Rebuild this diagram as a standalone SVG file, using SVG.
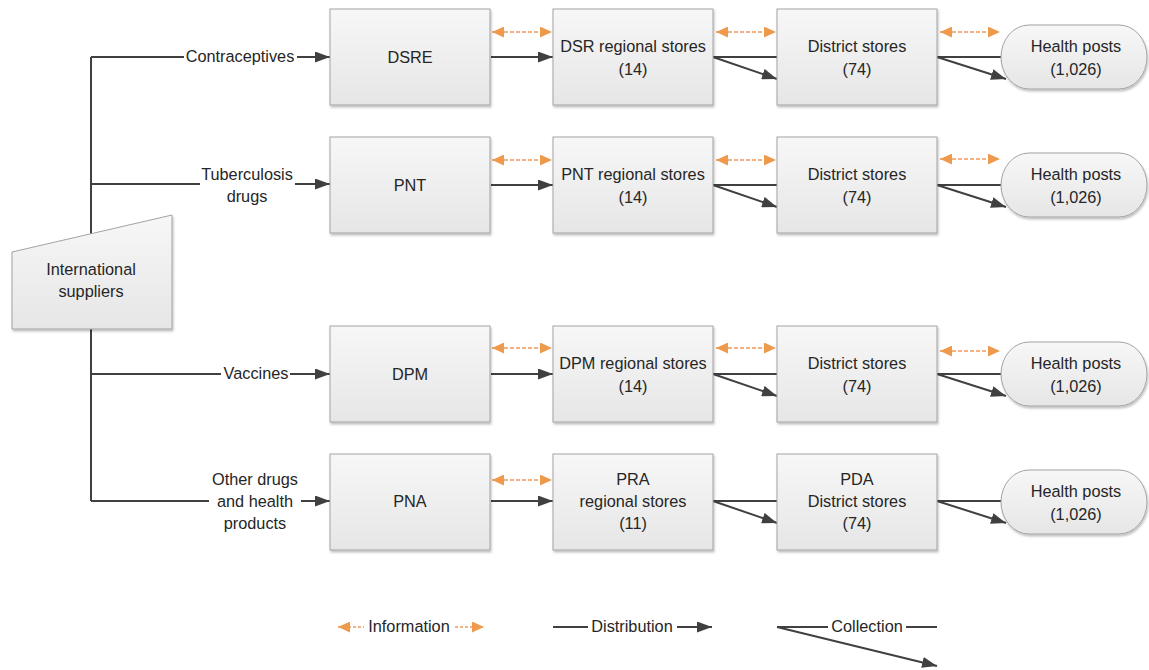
<svg xmlns="http://www.w3.org/2000/svg" width="1149" height="670" viewBox="0 0 1149 670">
<style>
text{font-family:"Liberation Sans",Arial,sans-serif;font-size:16.3px;fill:#262626;text-anchor:middle}
.box{fill:url(#g);stroke:#a3a3a3;stroke-width:1;filter:url(#sh)}
.ln{stroke:#404040;stroke-width:2;fill:none}
.ar{stroke:#404040;stroke-width:2;fill:none;marker-end:url(#ab)}
.info{stroke:#F4B183;stroke-width:2;stroke-dasharray:4 2;fill:none;marker-start:url(#ao);marker-end:url(#ao)}
</style>
<defs>
<linearGradient id="g" x1="0" y1="0" x2="0" y2="1">
<stop offset="0" stop-color="#f7f7f7"/>
<stop offset="1" stop-color="#e6e6e6"/>
</linearGradient>
<filter id="sh" x="-10%" y="-10%" width="130%" height="130%">
<feDropShadow dx="1" dy="2" stdDeviation="1.2" flood-color="#000" flood-opacity="0.25"/>
</filter>
<marker id="ab" viewBox="0 0 15 11" markerWidth="15" markerHeight="11" refX="15" refY="5.5" orient="auto" markerUnits="userSpaceOnUse">
<path d="M0,0 L15,5.5 L0,11 z" fill="#404040"/>
</marker>
<marker id="ao" viewBox="0 0 12 11" markerWidth="12" markerHeight="11" refX="12" refY="5.5" orient="auto-start-reverse" markerUnits="userSpaceOnUse">
<path d="M0,0 L12,5.5 L0,11 z" fill="#EE9A4D"/>
</marker>
</defs>
<rect width="1149" height="670" fill="#fff"/>

<g id="connectors">
<path class="ln" d="M91,57 V501"/>
<path class="ln" d="M91,57 H184"/><path class="ar" d="M297,57 H330"/>
<path class="ln" d="M91,184 H200"/><path class="ar" d="M295,184 H330"/>
<path class="ln" d="M91,374 H221"/><path class="ar" d="M290,374 H330"/>
<path class="ln" d="M91,501 H209"/><path class="ar" d="M301,501 H330"/>
<path class="ar" d="M491,57 H553"/>
<path class="ar" d="M491,185 H553"/>
<path class="ar" d="M491,374 H553"/>
<path class="ar" d="M491,501 H553"/>
<path class="ln" d="M713,57 H777"/><path class="ar" d="M713,57 L777,79"/>
<path class="ln" d="M713,185 H777"/><path class="ar" d="M713,185 L777,207"/>
<path class="ln" d="M713,374 H777"/><path class="ar" d="M713,374 L777,396"/>
<path class="ln" d="M713,501 H777"/><path class="ar" d="M713,501 L777,523"/>
<path class="ln" d="M937,57 H1003"/><path class="ar" d="M937,57 L1006,79"/>
<path class="ln" d="M937,185 H1003"/><path class="ar" d="M937,185 L1006,207"/>
<path class="ln" d="M937,374 H1003"/><path class="ar" d="M937,374 L1006,396"/>
<path class="ln" d="M937,501 H1003"/><path class="ar" d="M937,501 L1006,523"/>
<path class="info" d="M492,32 H552"/>
<path class="info" d="M716,32 H776"/>
<path class="info" d="M940,32 H1000"/>
<path class="info" d="M492,160 H552"/>
<path class="info" d="M716,160 H776"/>
<path class="info" d="M940,159 H1000"/>
<path class="info" d="M492,348 H552"/>
<path class="info" d="M716,348 H776"/>
<path class="info" d="M940,351 H1000"/>
<path class="info" d="M492,480 H552"/>
</g>

<g id="labels">
<text x="240" y="62">Contraceptives</text>
<text x="247" y="180">Tuberculosis</text>
<text x="247" y="202">drugs</text>
<text x="256" y="379">Vaccines</text>
<text x="255" y="485">Other drugs</text>
<text x="255" y="507">and health</text>
<text x="255" y="529">products</text>
</g>

<g id="international-suppliers">
<path d="M12,252 L172,215 L172,329 L12,329 z" fill="url(#g)" stroke="#a3a3a3" filter="url(#sh)"/>
<text x="91" y="275">International</text>
<text x="91" y="297">suppliers</text>
</g>

<g id="dsre"><rect class="box" x="330" y="9" width="160" height="96"/><text x="410" y="63">DSRE</text></g>
<g id="dsr-regional"><rect class="box" x="553" y="9" width="160" height="96"/><text x="633" y="52">DSR regional stores</text><text x="633" y="75">(14)</text></g>
<g id="district-1"><rect class="box" x="777" y="9" width="160" height="96"/><text x="857" y="52">District stores</text><text x="857" y="75">(74)</text></g>
<g id="hp-1"><rect class="box" x="1001" y="25" width="146" height="64" rx="28" ry="32"/><text x="1076" y="52">Health posts</text><text x="1076" y="75">(1,026)</text></g>

<g id="pnt"><rect class="box" x="330" y="137" width="160" height="96"/><text x="410" y="191">PNT</text></g>
<g id="pnt-regional"><rect class="box" x="553" y="137" width="160" height="96"/><text x="633" y="180">PNT regional stores</text><text x="633" y="203">(14)</text></g>
<g id="district-2"><rect class="box" x="777" y="137" width="160" height="96"/><text x="857" y="180">District stores</text><text x="857" y="203">(74)</text></g>
<g id="hp-2"><rect class="box" x="1001" y="153" width="146" height="64" rx="28" ry="32"/><text x="1076" y="180">Health posts</text><text x="1076" y="203">(1,026)</text></g>

<g id="dpm"><rect class="box" x="330" y="326" width="160" height="96"/><text x="410" y="380">DPM</text></g>
<g id="dpm-regional"><rect class="box" x="553" y="326" width="160" height="96"/><text x="633" y="369">DPM regional stores</text><text x="633" y="392">(14)</text></g>
<g id="district-3"><rect class="box" x="777" y="326" width="160" height="96"/><text x="857" y="369">District stores</text><text x="857" y="392">(74)</text></g>
<g id="hp-3"><rect class="box" x="1001" y="342" width="146" height="64" rx="28" ry="32"/><text x="1076" y="369">Health posts</text><text x="1076" y="392">(1,026)</text></g>

<g id="pna"><rect class="box" x="330" y="454" width="160" height="96"/><text x="410" y="507">PNA</text></g>
<g id="pra-regional"><rect class="box" x="553" y="454" width="160" height="96"/><text x="633" y="485">PRA</text><text x="633" y="507">regional stores</text><text x="633" y="529">(11)</text></g>
<g id="pda-district"><rect class="box" x="777" y="454" width="160" height="96"/><text x="857" y="485">PDA</text><text x="857" y="507">District stores</text><text x="857" y="529">(74)</text></g>
<g id="hp-4"><rect class="box" x="1001" y="470" width="146" height="64" rx="28" ry="32"/><text x="1076" y="497">Health posts</text><text x="1076" y="520">(1,026)</text></g>

<g id="legend">
<path d="M338,627 H364" stroke="#F4B183" stroke-width="2" stroke-dasharray="3 2" marker-start="url(#ao)"/>
<text x="409" y="632">Information</text>
<path d="M455,627 H484" stroke="#F4B183" stroke-width="2" stroke-dasharray="3 2" marker-end="url(#ao)"/>
<path class="ln" d="M553,627 H588"/>
<text x="632" y="632">Distribution</text>
<path class="ar" d="M677,627 H712"/>
<path class="ln" d="M777,627 H828"/>
<text x="867" y="632">Collection</text>
<path class="ln" d="M906,627 H937"/>
<path class="ar" d="M777,627 L937,666"/>
</g>
</svg>
